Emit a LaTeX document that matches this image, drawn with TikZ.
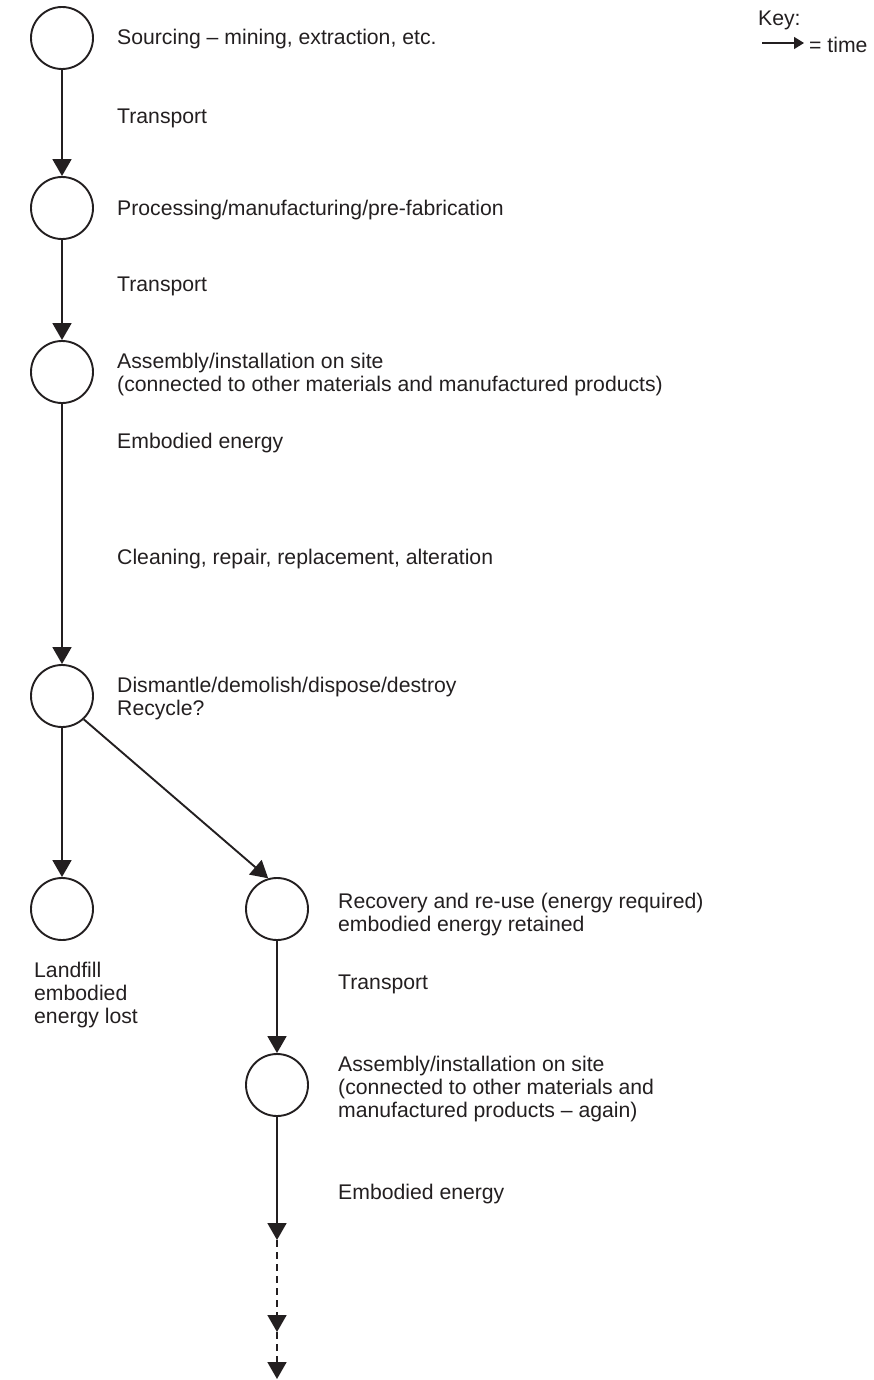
\documentclass[tikz,border=0pt]{standalone}
\usepackage{fontspec}
\setmainfont{Liberation Sans}
\usetikzlibrary{arrows.meta}
\definecolor{ink}{RGB}{35,31,32}
\begin{document}
\begin{tikzpicture}[x=1pt,y=-1pt,
  stage/.style={circle, draw=ink, line width=1.9pt, minimum size=62pt, inner sep=0pt},
  lbl/.style={anchor=west, align=left, inner sep=0pt, text=ink, font=\fontsize{21.2}{23}\selectfont},
  flow/.style={draw=ink, line width=1.9pt, -{Triangle[length=17pt,width=19pt]}},
  dflow/.style={flow, dash pattern=on 7pt off 5pt},
]
\useasboundingbox (0,0) rectangle (873,1380);

% life-cycle stages
\node[stage] (n1) at (62,38) {};
\node[stage] (n2) at (62,208) {};
\node[stage] (n3) at (62,372) {};
\node[stage] (n4) at (62,696) {};
\node[stage] (n5) at (62,909) {};
\node[stage] (n6) at (277,909) {};
\node[stage] (n7) at (277,1085) {};

% labels
\node[lbl] (t1) at (117,39) {Sourcing – mining, extraction, etc.};
\node[lbl] (t2) at (117,118) {Transport};
\node[lbl] (t3) at (117,210) {Processing/manufacturing/pre-fabrication};
\node[lbl] (t4) at (117,286) {Transport};
\node[lbl] (t5) at (117,374.5) {Assembly/installation on site\\(connected to other materials and manufactured products)};
\node[lbl] (t6) at (117,443) {Embodied energy};
\node[lbl] (t7) at (117,559) {Cleaning, repair, replacement, alteration};
\node[lbl] (t8) at (117,699) {Dismantle/demolish/dispose/destroy\\Recycle?};
\node[lbl] (t9) at (338,915) {Recovery and re-use (energy required)\\embodied energy retained};
\node[lbl] (t10) at (338,984) {Transport};
\node[lbl] (t11) at (34,995) {Landfill\\embodied\\energy lost};
\node[lbl] (t12) at (338,1089) {Assembly/installation on site\\(connected to other materials and\\manufactured products – again)};
\node[lbl] (t13) at (338,1194) {Embodied energy};

% flow of time
\draw[flow] (n1) -- (n2);
\draw[flow] (n2) -- (n3);
\draw[flow] (n3) -- (n4);
\draw[flow] (n4) -- (n5);
\draw[flow] (n4.-47) -- (n6.106);
\draw[flow] (n6) -- (n7);
\coordinate (d1) at (277,1240);
\coordinate (d2) at (277,1332);
\coordinate (d3) at (277,1379);
\draw[flow] (n7) -- (d1);
\draw[dflow] (d1) -- (d2);
\draw[dflow] (d2) -- (d3);

% key
\node[lbl] (key) at (758,20) {Key:};
\coordinate (k1) at (762,43);
\coordinate (k2) at (804,43);
\draw[draw=ink, line width=1.5pt, -{Triangle[length=10pt,width=12pt]}] (k1) -- (k2);
\node[lbl] (ktime) at (809,45) {= time};
\end{tikzpicture}
\end{document}
